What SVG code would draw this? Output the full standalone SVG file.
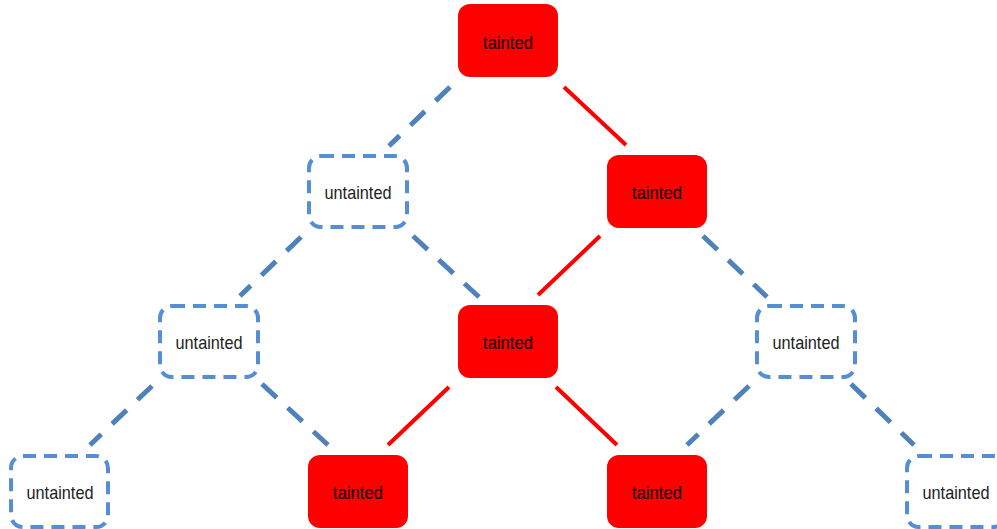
<svg xmlns="http://www.w3.org/2000/svg" width="997" height="529" viewBox="0 0 997 529">
<style>
.t rect{fill:#FF0000;}
.u rect{fill:#FFFFFF;stroke:#558ED5;stroke-width:4;stroke-dasharray:13 8;}
text{font-family:"Liberation Sans",Arial,sans-serif;font-size:19px;text-anchor:middle;}
.t text{fill:#000000;}
.u text{fill:#222222;}
.red{stroke:#FF0000;stroke-width:4;fill:none;}
.blue{stroke:#4F81BD;stroke-width:5;stroke-dasharray:20 15;fill:none;}
</style>
<rect width="997" height="529" fill="#FFFFFF"/>
<g id="connectors">
<line class="red" x1="564" y1="87" x2="626" y2="145"/>
<line class="red" x1="600" y1="236" x2="538" y2="295"/>
<line class="red" x1="449" y1="387" x2="388" y2="445"/>
<line class="red" x1="556" y1="387" x2="617" y2="445"/>
<line class="blue" x1="450" y1="87" x2="389" y2="146"/>
<line class="blue" x1="301" y1="237" x2="240" y2="296"/>
<line class="blue" x1="413" y1="236" x2="479" y2="297"/>
<line class="blue" x1="703" y1="236" x2="767" y2="297"/>
<line class="blue" x1="152" y1="386" x2="90" y2="445"/>
<line class="blue" x1="262" y1="384" x2="328" y2="445"/>
<line class="blue" x1="749" y1="386" x2="687" y2="445"/>
<line class="blue" x1="851" y1="384" x2="914" y2="445"/>
</g>
<g id="n1" class="t"><rect x="458" y="4" width="100" height="73" rx="12"/><text x="508" y="49" textLength="50" lengthAdjust="spacingAndGlyphs">tainted</text></g>
<g id="n2" class="u"><rect x="309" y="156" width="98" height="71" rx="12"/><text x="358" y="199" textLength="67" lengthAdjust="spacingAndGlyphs">untainted</text></g>
<g id="n3" class="t"><rect x="607" y="155" width="100" height="73" rx="12"/><text x="657" y="199" textLength="50" lengthAdjust="spacingAndGlyphs">tainted</text></g>
<g id="n4" class="u"><rect x="160" y="306" width="98" height="71" rx="12"/><text x="209" y="349" textLength="67" lengthAdjust="spacingAndGlyphs">untainted</text></g>
<g id="n5" class="t"><rect x="458" y="305" width="100" height="73" rx="12"/><text x="508" y="349" textLength="50" lengthAdjust="spacingAndGlyphs">tainted</text></g>
<g id="n6" class="u"><rect x="757" y="306" width="98" height="71" rx="12"/><text x="806" y="349" textLength="67" lengthAdjust="spacingAndGlyphs">untainted</text></g>
<g id="n7" class="u"><rect x="11" y="456" width="97" height="71" rx="12"/><text x="60" y="499" textLength="67" lengthAdjust="spacingAndGlyphs">untainted</text></g>
<g id="n8" class="t"><rect x="308" y="455" width="100" height="73" rx="12"/><text x="358" y="499" textLength="50" lengthAdjust="spacingAndGlyphs">tainted</text></g>
<g id="n9" class="t"><rect x="607" y="455" width="100" height="73" rx="12"/><text x="657" y="499" textLength="50" lengthAdjust="spacingAndGlyphs">tainted</text></g>
<g id="n10" class="u"><rect x="907" y="456" width="98" height="71" rx="12"/><text x="956" y="499" textLength="67" lengthAdjust="spacingAndGlyphs">untainted</text></g>
</svg>
